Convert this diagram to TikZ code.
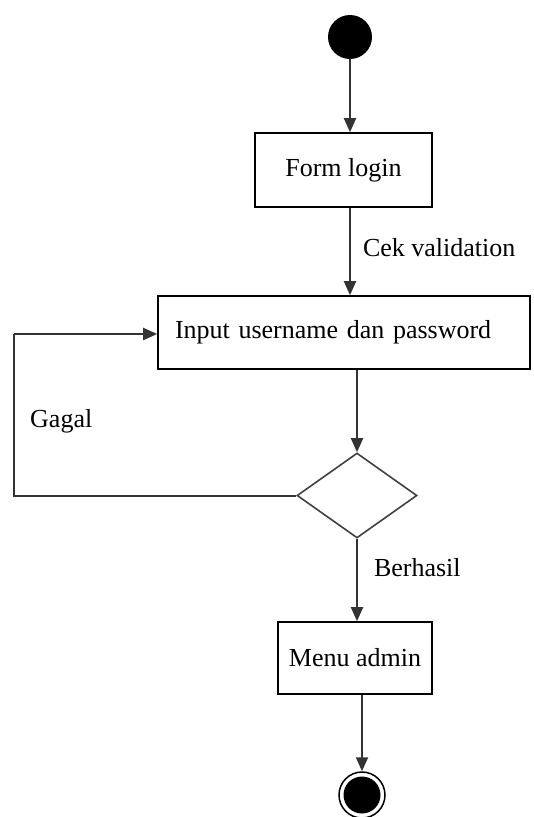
\documentclass[tikz,border=0pt]{standalone}
\usepackage{fontspec}
\setmainfont{Liberation Serif}
\usetikzlibrary{arrows.meta,shapes.geometric}
\begin{document}
\begin{tikzpicture}[x=1pt,y=-1pt,
  font=\fontsize{26}{30}\selectfont,
  actbox/.style={draw=black,line width=1.6pt,rectangle,inner sep=0pt},
  flow/.style={draw=black!80,line width=2pt,-{Triangle[length=14pt,width=12pt]}},
  plain/.style={draw=black!80,line width=2pt},
  lbl/.style={anchor=west,inner sep=0pt}]
\useasboundingbox (0,0) rectangle (534,817);
\node[circle,fill=black,minimum size=44pt,inner sep=0pt] (start) at (350,37) {};
\node[actbox,minimum width=177pt,minimum height=74pt] (form) at (343.5,170) {Form login};
\node[actbox,minimum height=73pt,text width=338pt,inner xsep=17pt,align=left] (input) at (344,332.5) {Input username dan password};
\node[diamond,draw=black!75,line width=1.6pt,minimum width=120pt,minimum height=85pt,inner sep=0pt] (dec) at (357,495.5) {};
\node[actbox,minimum width=154pt,minimum height=72pt] (menu) at (355,658) {Menu admin};
\node[circle,draw=black,line width=1.5pt,minimum size=46pt,inner sep=0pt,
  path picture={\fill[black] (path picture bounding box.center) circle (18.5pt);}] (end) at (362,795) {};
\coordinate (c1) at (14,495.5);
\coordinate (c2) at (14,334);
\draw[flow] (start) -- (start |- form.north);
\draw[flow] (start |- form.south) -- (start |- input.north) node[pos=0.45,lbl,xshift=12pt] (cek) {Cek validation};
\draw[flow] (dec |- input.south) -- (dec.north);
\draw[plain] (dec.west) -- (c1) -- (c2);
\draw[flow] (c2) -- (c2 -| input.west);
\node[lbl] (gagal) at (30,421) {Gagal};
\draw[flow] (dec.south) -- (dec |- menu.north) node[pos=0.35,lbl,xshift=16pt] (ber) {Berhasil};
\draw[flow] (end |- menu.south) -- (end.north);
\end{tikzpicture}
\end{document}
